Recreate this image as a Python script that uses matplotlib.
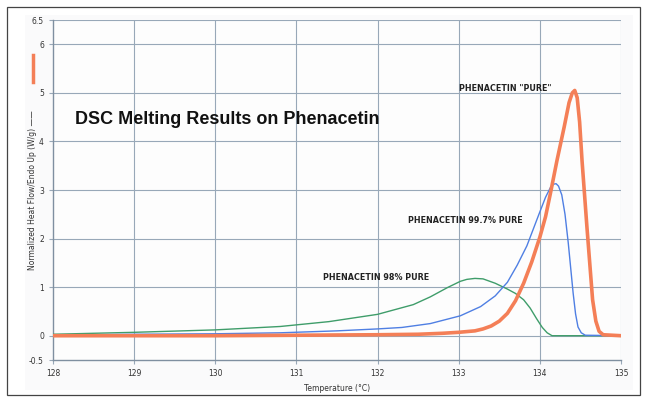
import matplotlib
matplotlib.use("Agg")
import matplotlib.pyplot as plt
from matplotlib.lines import Line2D
from matplotlib.patches import Rectangle

# ---- data ----
pure_x = [128, 129, 130, 131, 132, 132.5, 132.8, 133.0, 133.2, 133.3, 133.4, 133.5, 133.6, 133.7,
          133.8, 133.9, 134.0, 134.07, 134.13, 134.21, 134.3, 134.36, 134.4, 134.43, 134.46,
          134.49, 134.52, 134.58, 134.65, 134.69, 134.73, 134.78, 135]
pure_y = [0.0, 0.0, 0.0, 0.01, 0.02, 0.03, 0.05, 0.07, 0.1, 0.14, 0.2, 0.3, 0.46, 0.72,
          1.08, 1.52, 2.03, 2.45, 2.93, 3.6, 4.3, 4.8, 5.0, 5.05, 4.9,
          4.4, 3.6, 2.24, 0.74, 0.3, 0.09, 0.02, 0.0]

p997_x = [128, 129, 130, 130.8, 131.5, 132.0, 132.3, 132.65, 133.02, 133.27, 133.45, 133.6,
          133.72, 133.84, 133.92, 134.0, 134.07, 134.13, 134.17, 134.2, 134.23, 134.27, 134.31,
          134.35, 134.41, 134.44, 134.47, 134.51, 134.56, 135]
p997_y = [0.01, 0.03, 0.04, 0.06, 0.1, 0.14, 0.17, 0.25, 0.41, 0.6, 0.82, 1.1,
          1.45, 1.85, 2.2, 2.55, 2.85, 3.05, 3.12, 3.13, 3.08, 2.9, 2.5,
          1.91, 0.88, 0.45, 0.18, 0.06, 0.01, 0.0]

p98_x = [128, 129, 130, 130.8, 131.4, 132.0, 132.44, 132.65, 132.86, 133.02, 133.1, 133.2,
         133.3, 133.45, 133.6, 133.7, 133.8, 133.88, 133.96, 134.03, 134.09, 134.15, 135]
p98_y = [0.03, 0.07, 0.12, 0.19, 0.29, 0.44, 0.64, 0.8, 0.99, 1.12, 1.16, 1.18,
         1.17, 1.08, 0.96, 0.87, 0.74, 0.57, 0.35, 0.17, 0.06, 0.0, 0.0]

xticks = [128, 129, 130, 131, 132, 133, 134, 135]
yticks = [-0.5, 0, 1, 2, 3, 4, 5, 6, 6.5]
ytick_labels = ["-0.5", "0", "1", "2", "3", "4", "5", "6", "6.5"]

title = "DSC Melting Results on Phenacetin"
lbl_pure = 'PHENACETIN "PURE"'
lbl_997 = "PHENACETIN 99.7% PURE"
lbl_98 = "PHENACETIN 98% PURE"

ORANGE = "#f47f57"
BLUE = "#4f7fe3"
GREEN = "#3f9d6a"
GRID = "#98a8b8"
TXT = "#333333"

fig = plt.figure(figsize=(6.47, 4.01), dpi=100)
fig.patch.set_facecolor("white")
# outer frame
fig.add_artist(Rectangle((7/647, 1-395/401), 633/647, 388/401, transform=fig.transFigure,
                         fill=False, edgecolor="#444444", linewidth=0.9))
fig.add_artist(Rectangle((25/647, 1-390/401), 608/647, 375/401, transform=fig.transFigure,
                         facecolor="#fafafb", edgecolor="none", zorder=-1))

ax = fig.add_axes([53/647, 1-360/401, 568/647, 340/401])
ax.set_facecolor("#fdfdfd")
ax.set_xlim(128, 135)
ax.set_ylim(-0.5, 6.5)

ax.plot(p98_x, p98_y, color=GREEN, lw=1.0, zorder=3)
ax.plot(p997_x, p997_y, color=BLUE, lw=1.0, zorder=4)
ax.plot(pure_x, pure_y, color=ORANGE, lw=2.6, zorder=5, solid_joinstyle="round")

ax.set_xticks(xticks)
ax.set_yticks(yticks)
ax.set_yticklabels(ytick_labels)
ax.tick_params(axis="both", labelsize=5.5, colors=GRID, labelcolor=TXT, length=3, width=0.8)
for y in [0, 1, 2, 3, 4, 5, 6, 6.5]:
    ax.axhline(y, color=GRID, lw=0.8, zorder=1)
for x in xticks[1:]:
    ax.axvline(x, color=GRID, lw=0.8, zorder=1)
for s in ["top", "right"]:
    ax.spines[s].set_visible(False)
for s in ["left", "bottom"]:
    ax.spines[s].set_color("#7f8fa0")
    ax.spines[s].set_linewidth(1.0)

ax.set_xlabel("Temperature (\u00b0C)", fontsize=5.5, color=TXT, labelpad=4)

fig.text(33/647, 1-190/401, "Normalized Heat Flow/Endo Up (W/g) \u2014\u2014", rotation=90,
         fontsize=5.5, color=TXT, ha="center", va="center")
fig.add_artist(Line2D([33/647, 33/647], [1-82/401, 1-55/401], transform=fig.transFigure,
                      color=ORANGE, lw=2.5))

ax.text(128.27, 4.45, title, fontsize=13, fontweight="bold", family="Liberation Sans",
        color="#111111", ha="left", va="center")
nar = ["Liberation Sans Narrow", "DejaVu Sans"]
ax.text(133.0, 5.0, lbl_pure, fontsize=5.8, fontweight="bold", family=nar, color="#222222",
        ha="left", va="bottom")
ax.text(132.38, 2.38, lbl_997, fontsize=5.8, fontweight="bold", family=nar, color="#222222",
        ha="left", va="center")
ax.text(131.33, 1.2, lbl_98, fontsize=5.8, fontweight="bold", family=nar, color="#222222",
        ha="left", va="center")

fig.savefig("out.png", dpi=100)
